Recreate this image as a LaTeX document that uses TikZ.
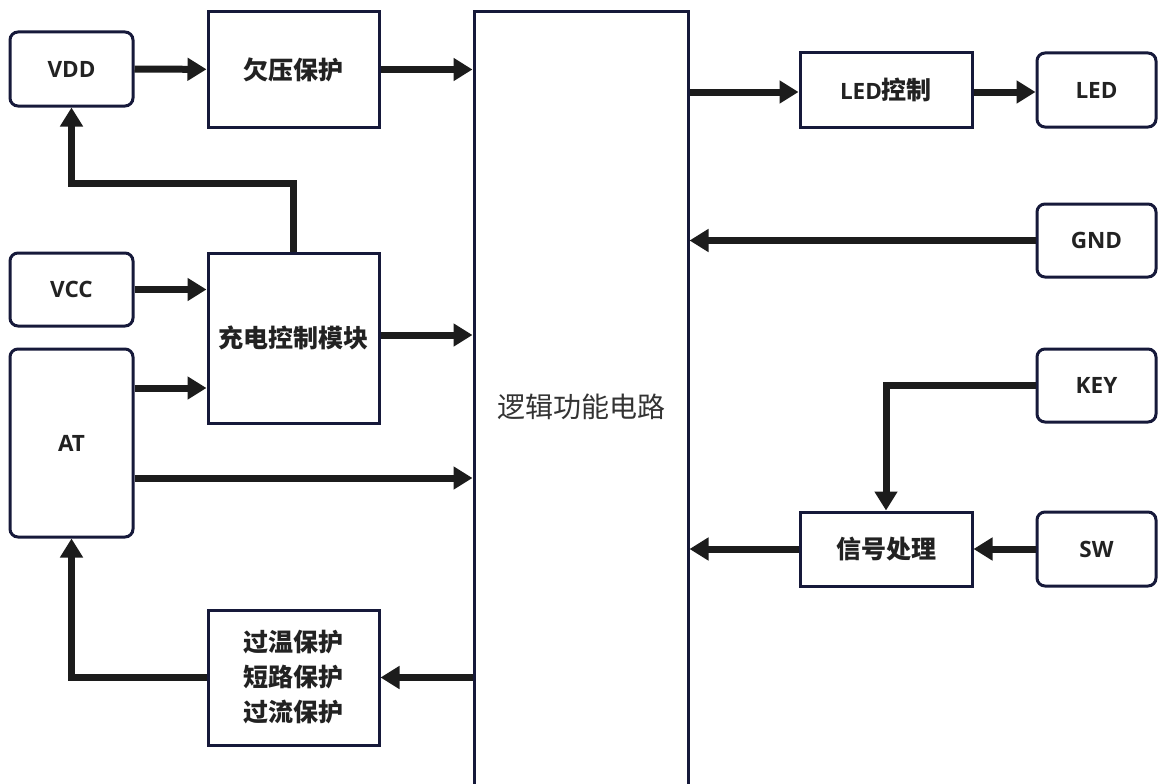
\documentclass[tikz,border=0pt]{standalone}
\usepackage{fontspec}
\setmainfont{Open Sans}
\newfontfamily\cjk{Noto Sans CJK SC}
\usetikzlibrary{arrows.meta}
\definecolor{boxline}{HTML}{16193A}
\definecolor{arrowc}{HTML}{1C1C1C}
\definecolor{txt}{HTML}{222222}
\tikzset{
  base/.style={draw=boxline, line width=3pt, fill=white, text=txt, align=center, inner sep=0pt},
  rbox/.style={base, rounded corners=8pt, minimum width=123pt, minimum height=73pt, font=\fontsize{22.5}{26}\selectfont\bfseries},
  sbox/.style={base, minimum width=171pt, font=\fontsize{25}{35}\selectfont\cjk\bfseries},
  arr/.style={draw=arrowc, line width=7pt, -{Triangle[length=19pt,width=22pt]}}
}
\begin{document}
\begin{tikzpicture}[x=1pt,y=-1pt]
\useasboundingbox (0,0) rectangle (1159,784);
\fill[white] (0,0) rectangle (1159,784);
% left column
\node[rbox, minimum height=74pt] (VDD) at (71.5,69) {VDD};
\node[rbox] (VCC) at (71.5,289.5) {VCC};
\node[rbox, minimum height=188pt] (AT) at (71.5,443) {AT};
% second column
\node[sbox, minimum height=115pt] (UV) at (293.5,69.5) {欠压保护};
\node[sbox, minimum height=170pt] (CH) at (293.5,338) {充电控制模块};
\node[sbox, minimum height=135pt] (OT) at (293.5,677.5) {过温保护\\短路保护\\过流保护};
% main block
\node[base, minimum width=214pt, minimum height=790pt, font=\fontsize{28}{32}\selectfont\cjk, text=black!80] (M) at (581,407) {逻辑功能电路};
% right side
\node[sbox, minimum width=172pt, minimum height=74pt] (LC) at (886,90) {\fontsize{22.5}{26}\selectfont\fontspec{Open Sans}\bfseries LED\cjk\fontsize{25}{35}\selectfont 控制};
\node[rbox, minimum width=119pt, minimum height=74pt] (LED) at (1096.5,90) {LED};
\node[rbox, minimum width=119pt] (GND) at (1096.5,240.5) {GND};
\node[rbox, minimum width=119pt] (KEY) at (1096.5,385.5) {KEY};
\node[sbox, minimum width=172pt, minimum height=74pt] (SP) at (886,549) {信号处理};
\node[rbox, minimum width=119pt, minimum height=74pt] (SW) at (1096.5,549) {SW};
% connectors
\draw[arr] (VDD) -- (UV);
\draw[arr] (UV) -- (M.west |- UV);
\draw[arr] (CH.north) -- ++(0,-68) -| (VDD.south);
\draw[arr] (VCC) -- (CH.west |- VCC);
\draw[arr] (CH.east |- 0,335) -- (M.west |- 0,335);
\draw[arr] (AT.east |- 0,388) -- (CH.west |- 0,388);
\draw[arr] (AT.east |- 0,478) -- (M.west |- 0,478);
\draw[arr] (M.west |- OT) -- (OT);
\draw[arr] (OT.west) -| (AT.south);
\draw[arr] (M.east |- 0,92) -- (LC.west |- 0,92);
\draw[arr] (LC.east |- 0,92) -- (LED.west |- 0,92);
\draw[arr] (GND) -- (M.east |- GND);
\draw[arr] (KEY.west) -| (SP.north);
\draw[arr] (SW) -- (SP);
\draw[arr] (SP) -- (M.east |- SP);
\end{tikzpicture}
\end{document}
